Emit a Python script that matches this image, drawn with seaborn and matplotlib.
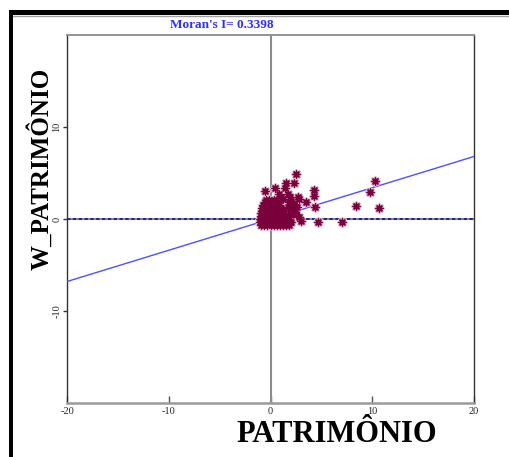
import numpy as np
import pandas as pd
import matplotlib
matplotlib.use("Agg")
import matplotlib.pyplot as plt
from matplotlib.patches import Rectangle
from matplotlib.lines import Line2D
import seaborn as sns

# ---------------- data ----------------
moran_i = 0.3398
title_text = "Moran's I= 0.3398"
x_label = "PATRIMÔNIO"
y_label = "W_PATRIMÔNIO"
x_ticks = [-20, -10, 0, 10, 20]
y_ticks = [-10, 0, 10]
axis_limits = [-20, 20]

# dense cluster near the origin (estimated)
cluster_x = [-0.9, -0.6, -0.3, 0.0, 0.3, 0.6, 0.9, 1.2, 1.5, 1.8,
             -1.0, -0.7, -0.4, -0.1, 0.2, 0.5, 0.8, 1.1, 1.4, 1.7, 2.0,
             -1.0, -0.7, -0.4, -0.1, 0.2, 0.5, 0.8, 1.1, 1.4, 1.7,
             -0.9, -0.6, -0.3, 0.0, 0.3, 0.6, 0.9, 1.2, 1.5,
             -0.9, -0.6, -0.3, 0.0, 0.3, 0.6, 0.9, 1.2,
             -0.8, -0.5, -0.2, 0.1, 0.4, 0.7, 1.0, 1.3,
             -0.8, -0.5, -0.2, 0.1, 0.4, 0.7, 1.0,
             -0.7, -0.4, -0.1, 0.2, 0.5, 0.8,
             -0.5, -0.2, 0.1, 0.4, 0.7,
             -0.4, -0.1, 0.3, 0.6]
cluster_y = [-0.6, -0.6, -0.6, -0.6, -0.6, -0.6, -0.6, -0.6, -0.6, -0.6,
             -0.3, -0.3, -0.3, -0.3, -0.3, -0.3, -0.3, -0.3, -0.3, -0.3, -0.3,
             0.0, 0.0, 0.0, 0.0, 0.0, 0.0, 0.0, 0.0, 0.0, 0.0,
             0.3, 0.3, 0.3, 0.3, 0.3, 0.3, 0.3, 0.3, 0.3,
             0.6, 0.6, 0.6, 0.6, 0.6, 0.6, 0.6, 0.6,
             0.9, 0.9, 0.9, 0.9, 0.9, 0.9, 0.9, 0.9,
             1.2, 1.2, 1.2, 1.2, 1.2, 1.2, 1.2,
             1.5, 1.5, 1.5, 1.5, 1.5, 1.5,
             1.8, 1.8, 1.8, 1.8, 1.8,
             2.1, 2.1, 2.1, 2.1]

# scattered points (estimated)
outlier_x = [-0.55, 0.49, 1.44, 1.54, 2.29, 2.52, 1.7, 1.93, 2.69, 2.85,
             3.5, 4.32, 4.32, 4.39, 2.36, 2.85, 3.0, 4.7, 1.97, 1.7,
             10.3, 9.73, 8.42, 10.65, 7.0, 2.0, 2.3, 2.6, 1.8, 2.2,
             2.5, 2.0, 1.9, 1.0, 0.8, 1.2]
outlier_y = [3.0, 3.4, 3.35, 3.95, 3.95, 4.85, 2.7, 2.35, 2.35, 2.2,
             1.9, 3.15, 2.46, 1.27, 0.72, 0.18, -0.18, -0.3, 1.52, 1.26,
             4.16, 2.97, 1.45, 1.16, -0.29, 2.0, 1.6, 1.3, 1.8, 1.1,
             0.5, 0.4, 0.9, 2.4, 2.7, 2.2]

df = pd.DataFrame({
    "PATRIMONIO": cluster_x + outlier_x,
    "W_PATRIMONIO": cluster_y + outlier_y,
})
line_x = np.array(axis_limits, dtype=float)
line_df = pd.DataFrame({"x": line_x, "y": moran_i * line_x})

# ---------------- style ----------------
sns.set_style("white")
plt.rcParams["font.family"] = ["Liberation Serif", "DejaVu Serif"]

W, H = 510, 457
fig = plt.figure(figsize=(W / 100, H / 100), dpi=100)
ax = fig.add_axes([67 / W, 1 - 403 / H, 407 / W, 368 / H])

# reference lines
ax.axvline(0, color="#8c8c8c", lw=1.5, zorder=1)
ax.axhline(0, color="#8c8c8c", lw=1.5, zorder=1)
ax.axhline(0, color="#1010a0", lw=1.2, ls=(0, (2, 1.5)), zorder=2)

# regression line
sns.lineplot(data=line_df, x="x", y="y", color="#5050ff", lw=1.0, ax=ax, zorder=3)

# points: halo + asterisk
sns.scatterplot(data=df, x="PATRIMONIO", y="W_PATRIMONIO", marker=(8, 2, 0),
                s=30, linewidth=2.0, color="#dcb0c6", edgecolor="#dcb0c6",
                ax=ax, zorder=4, legend=False)
sns.scatterplot(data=df, x="PATRIMONIO", y="W_PATRIMONIO", marker=(8, 2, 0),
                s=24, linewidth=1.0, color="#7a003c", edgecolor="#7a003c",
                ax=ax, zorder=5, legend=False)

ax.set_xlim(axis_limits)
ax.set_ylim(axis_limits)
ax.set_xticks(x_ticks)
ax.set_yticks(y_ticks)
ax.set_xticklabels([str(t) for t in x_ticks])
ax.set_yticklabels([str(t) for t in y_ticks])
ax.set_xlabel("")
ax.set_ylabel("")

ax.spines["top"].set_color("#8c8c8c")
ax.spines["top"].set_linewidth(1.3)
ax.spines["right"].set_color("#333333")
ax.spines["right"].set_linewidth(1.0)
ax.spines["left"].set_color("#333333")
ax.spines["left"].set_linewidth(1.0)
ax.spines["bottom"].set_color("#9a9a9a")
ax.spines["bottom"].set_linewidth(1.8)

ax.tick_params(axis="x", direction="in", length=5, width=1, color="#555555",
               labelsize=7.5, pad=3, bottom=True)
ax.tick_params(axis="y", direction="out", length=3, width=1, color="#333333",
               labelsize=7.5, pad=1, left=True, labelrotation=90)
for lab in ax.get_yticklabels():
    lab.set_va("center")

# titles / labels
fig.text(222 / W, 1 - 28.5 / H, title_text, color="#3030ff", fontsize=9.5,
         fontweight="bold", ha="center", va="baseline")
fig.text(336.5 / W, 1 - 442 / H, x_label, color="black", fontsize=22,
         fontweight="bold", ha="center", va="baseline")
fig.text(48 / W, 1 - 168.5 / H, y_label, color="black", fontsize=18,
         fontweight="bold", ha="center", va="baseline", rotation=90,
         rotation_mode="anchor")

# window border
fig.add_artist(Rectangle((9 / W, 0), 4.3 / W, (H - 10) / H,
                         transform=fig.transFigure, color="black", lw=0))
fig.add_artist(Rectangle((9 / W, 1 - 15 / H), (W - 9) / W, 5 / H,
                         transform=fig.transFigure, color="black", lw=0))
fig.add_artist(Line2D([13.3 / W, 1], [1 - 15.8 / H, 1 - 15.8 / H],
                      transform=fig.transFigure, color="#a0a0a0", lw=1))

fig.savefig("out.png", dpi=100)
